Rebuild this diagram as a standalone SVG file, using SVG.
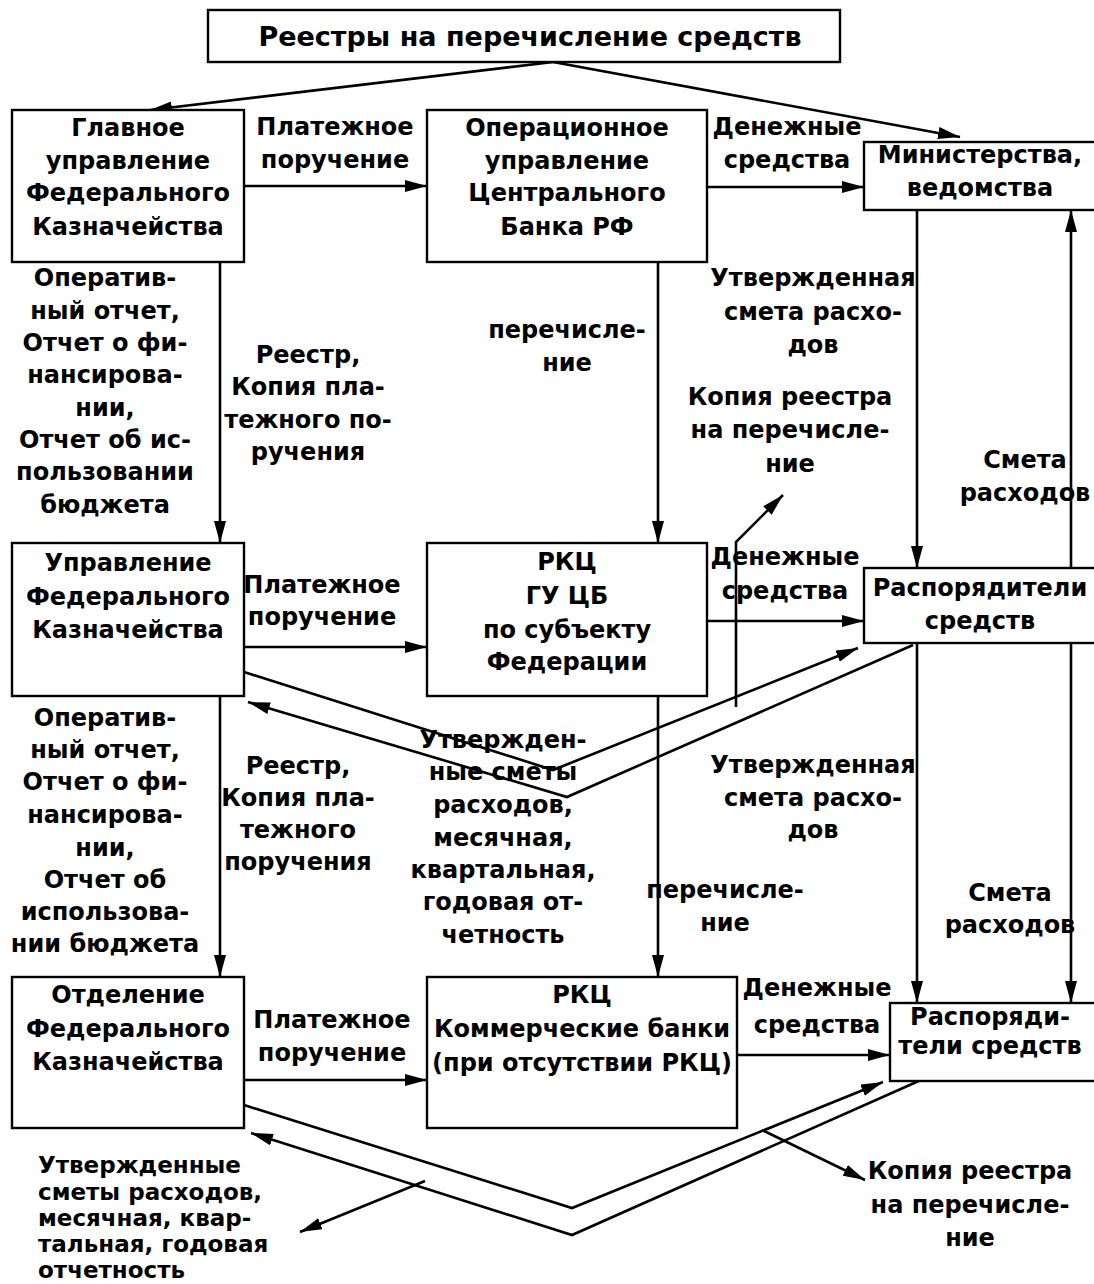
<svg xmlns="http://www.w3.org/2000/svg" width="1094" height="1284" viewBox="0 0 1094 1284">
<style>
.box{fill:#fff;stroke:#000;stroke-width:2.4}
.ln{fill:none;stroke:#000;stroke-width:2.6}
.arr{marker-end:url(#ah)}
text{font-family:"DejaVu Sans","Liberation Sans",sans-serif;font-weight:bold;font-size:24px;fill:#000;text-anchor:middle}
.title{font-size:27px}
.lft{text-anchor:start;font-size:23px}
</style>
<defs>
<marker id="ah" viewBox="0 0 22 12" refX="22" refY="6" markerWidth="22" markerHeight="12" markerUnits="userSpaceOnUse" orient="auto">
<path d="M0,0 L22,6 L0,12 z" fill="#000"/>
</marker>
</defs>
<rect width="1094" height="1284" fill="#fff"/>

<g id="connectors">
<path class="ln arr" d="M553,62 L150,110"/>
<path class="ln arr" d="M553,62 L960,137"/>
<path class="ln arr" d="M244,186 L427,186"/>
<path class="ln arr" d="M707,187 L864,187"/>
<path class="ln arr" d="M220,262 L220,543"/>
<path class="ln arr" d="M658,262 L658,543"/>
<path class="ln arr" d="M917,210 L917,568"/>
<path class="ln arr" d="M1071,568 L1071,210"/>
<path class="ln arr" d="M736,707 L736,542 L783,495"/>
<path class="ln arr" d="M244,647 L427,647"/>
<path class="ln arr" d="M707,621 L864,621"/>
<path class="ln arr" d="M220,696 L220,977"/>
<path class="ln arr" d="M658,696 L658,977"/>
<path class="ln arr" d="M917,643 L917,1003"/>
<path class="ln arr" d="M1071,643 L1071,1003"/>
<path class="ln arr" d="M244,672 L553,770 L858,648"/>
<path class="ln arr" d="M913,645 L567,797 L248,702"/>
<path class="ln arr" d="M244,1080 L427,1080"/>
<path class="ln arr" d="M737,1055 L890,1055"/>
<path class="ln arr" d="M244,1105 L572,1208 L883,1082"/>
<path class="ln arr" d="M921,1080 L572,1235 L251,1133"/>
<path class="ln arr" d="M762,1130 L865,1180"/>
<path class="ln arr" d="M425,1181 L300,1232"/>
</g>

<g id="n-title">
<rect class="box" x="208" y="10" width="632" height="52"/>
<text class="title" x="530" y="46">Реестры на перечисление средств</text>
</g>
<g id="n-gufk">
<rect class="box" x="12" y="110" width="232" height="152"/>
<text><tspan x="128" y="136">Главное</tspan><tspan x="128" y="169">управление</tspan><tspan x="128" y="201">Федерального</tspan><tspan x="128" y="235">Казначейства</tspan></text>
</g>
<g id="n-ou-cb">
<rect class="box" x="427" y="110" width="280" height="152"/>
<text><tspan x="567" y="136">Операционное</tspan><tspan x="567" y="169">управление</tspan><tspan x="567" y="201">Центрального</tspan><tspan x="567" y="235">Банка РФ</tspan></text>
</g>
<g id="n-min">
<rect class="box" x="864" y="142" width="240" height="68"/>
<text><tspan x="980" y="163">Министерства,</tspan><tspan x="980" y="196">ведомства</tspan></text>
</g>
<g id="n-ufk">
<rect class="box" x="12" y="543" width="232" height="153"/>
<text><tspan x="128" y="571">Управление</tspan><tspan x="128" y="605">Федерального</tspan><tspan x="128" y="638">Казначейства</tspan></text>
</g>
<g id="n-rkc-gu">
<rect class="box" x="427" y="543" width="280" height="153"/>
<text><tspan x="567" y="570">РКЦ</tspan><tspan x="567" y="604">ГУ ЦБ</tspan><tspan x="567" y="638">по субъекту</tspan><tspan x="567" y="670">Федерации</tspan></text>
</g>
<g id="n-rasp1">
<rect class="box" x="864" y="568" width="240" height="75"/>
<text><tspan x="980" y="596">Распорядители</tspan><tspan x="980" y="629">средств</tspan></text>
</g>
<g id="n-ofk">
<rect class="box" x="12" y="977" width="232" height="151"/>
<text><tspan x="128" y="1003">Отделение</tspan><tspan x="128" y="1037">Федерального</tspan><tspan x="128" y="1070">Казначейства</tspan></text>
</g>
<g id="n-rkc-kb">
<rect class="box" x="427" y="977" width="310" height="151"/>
<text><tspan x="582" y="1003">РКЦ</tspan><tspan x="582" y="1037">Коммерческие банки</tspan><tspan x="582" y="1071">(при отсутствии РКЦ)</tspan></text>
</g>
<g id="n-rasp2">
<rect class="box" x="890" y="1003" width="214" height="78"/>
<text><tspan x="990" y="1025">Распоряди-</tspan><tspan x="990" y="1054">тели средств</tspan></text>
</g>

<g id="labels">
<text><tspan x="335" y="135">Платежное</tspan><tspan x="335" y="168">поручение</tspan></text>
<text><tspan x="787" y="135">Денежные</tspan><tspan x="787" y="168">средства</tspan></text>
<text><tspan x="105" y="286">Оператив-</tspan><tspan x="105" y="319">ный отчет,</tspan><tspan x="105" y="351">Отчет о фи-</tspan><tspan x="105" y="383">нансирова-</tspan><tspan x="105" y="416">нии,</tspan><tspan x="105" y="448">Отчет об ис-</tspan><tspan x="105" y="480">пользовании</tspan><tspan x="105" y="513">бюджета</tspan></text>
<text><tspan x="308" y="363">Реестр,</tspan><tspan x="308" y="395">Копия пла-</tspan><tspan x="308" y="428">тежного по-</tspan><tspan x="308" y="460">ручения</tspan></text>
<text><tspan x="567" y="338">перечисле-</tspan><tspan x="567" y="371">ние</tspan></text>
<text><tspan x="813" y="286">Утвержденная</tspan><tspan x="813" y="320">смета расхо-</tspan><tspan x="813" y="353">дов</tspan></text>
<text><tspan x="790" y="405">Копия реестра</tspan><tspan x="790" y="438">на перечисле-</tspan><tspan x="790" y="472">ние</tspan></text>
<text><tspan x="1025" y="468">Смета</tspan><tspan x="1025" y="501">расходов</tspan></text>
<text><tspan x="322" y="593">Платежное</tspan><tspan x="322" y="625">поручение</tspan></text>
<text><tspan x="785" y="565">Денежные</tspan><tspan x="785" y="599">средства</tspan></text>
<text><tspan x="105" y="726">Оператив-</tspan><tspan x="105" y="758">ный отчет,</tspan><tspan x="105" y="790">Отчет о фи-</tspan><tspan x="105" y="823">нансирова-</tspan><tspan x="105" y="856">нии,</tspan><tspan x="105" y="888">Отчет об</tspan><tspan x="105" y="920">использова-</tspan><tspan x="105" y="952">нии бюджета</tspan></text>
<text><tspan x="298" y="774">Реестр,</tspan><tspan x="298" y="806">Копия пла-</tspan><tspan x="298" y="838">тежного</tspan><tspan x="298" y="870">поручения</tspan></text>
<text><tspan x="503" y="748">Утвержден-</tspan><tspan x="503" y="780">ные сметы</tspan><tspan x="503" y="813">расходов,</tspan><tspan x="503" y="846">месячная,</tspan><tspan x="503" y="878">квартальная,</tspan><tspan x="503" y="910">годовая от-</tspan><tspan x="503" y="943">четность</tspan></text>
<text><tspan x="813" y="773">Утвержденная</tspan><tspan x="813" y="806">смета расхо-</tspan><tspan x="813" y="838">дов</tspan></text>
<text><tspan x="725" y="898">перечисле-</tspan><tspan x="725" y="931">ние</tspan></text>
<text><tspan x="1010" y="901">Смета</tspan><tspan x="1010" y="933">расходов</tspan></text>
<text><tspan x="332" y="1028">Платежное</tspan><tspan x="332" y="1061">поручение</tspan></text>
<text><tspan x="817" y="996">Денежные</tspan><tspan x="817" y="1033">средства</tspan></text>
<text class="lft"><tspan x="38" y="1173">Утвержденные</tspan><tspan x="38" y="1200">сметы расходов,</tspan><tspan x="38" y="1226">месячная, квар-</tspan><tspan x="38" y="1252">тальная, годовая</tspan><tspan x="38" y="1278">отчетность</tspan></text>
<text><tspan x="970" y="1179">Копия реестра</tspan><tspan x="970" y="1213">на перечисле-</tspan><tspan x="970" y="1246">ние</tspan></text>
</g>
</svg>
